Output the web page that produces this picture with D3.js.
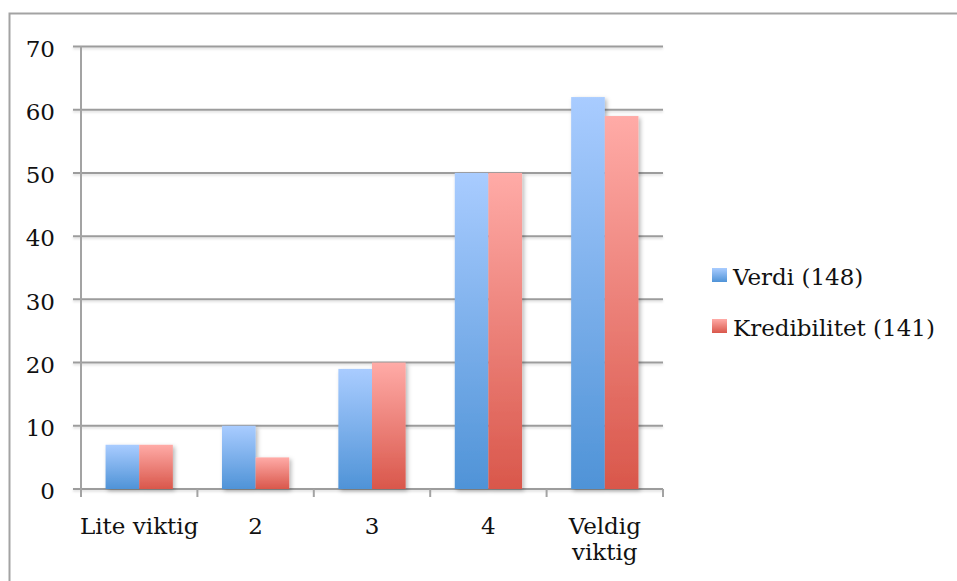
<!DOCTYPE html>
<html>
<head>
<meta charset="utf-8">
<script src="https://cdn.jsdelivr.net/npm/d3@7"></script>
<style>
  html, body { margin: 0; padding: 0; background: #fff; }
  svg { display: block; }
  text { font-family: "DejaVu Serif", serif; fill: #111; }
</style>
</head>
<body>
<svg id="chart" width="957" height="581"></svg>
<script>
// Response categories (importance scale)
const categories = ["Lite viktig", "2", "3", "4", "Veldig viktig"];
// Series
const seriesNames = ["Verdi (148)", "Kredibilitet (141)"];
const verdi = [7, 10, 19, 50, 62];
const kredibilitet = [7, 5, 20, 50, 59];
const yTicks = [0, 10, 20, 30, 40, 50, 60, 70];

const FONT = "DejaVu Serif, serif";
const FS = "23px";

const svg = d3.select("#chart");
const W = 957, H = 581;

const plot = { left: 81, right: 663, top: 46.5, bottom: 489 };

const y = d3.scaleLinear().domain([0, 70]).range([plot.bottom, plot.top]);
const x = d3.scaleBand().domain(categories).range([plot.left, plot.right]).padding(0);
const groupW = x.bandwidth() * 0.578;
const xs = d3.scaleBand().domain(seriesNames).range([-groupW / 2, groupW / 2]).padding(0);

const defs = svg.append("defs");
const palettes = [
  { id: "gBlue", top: "#a9ccff", bottom: "#4f93d7" },
  { id: "gRed", top: "#ffaba7", bottom: "#d9574b" }
];
palettes.forEach(p => {
  const g = defs.append("linearGradient").attr("id", p.id)
    .attr("x1", 0).attr("y1", 0).attr("x2", 0).attr("y2", 1);
  g.append("stop").attr("offset", "0%").attr("stop-color", p.top);
  g.append("stop").attr("offset", "100%").attr("stop-color", p.bottom);
});
const sh = defs.append("filter").attr("id", "shadow")
  .attr("x", "-20%").attr("y", "-10%").attr("width", "150%").attr("height", "130%");
sh.append("feDropShadow").attr("dx", 2).attr("dy", 2).attr("stdDeviation", 2.2)
  .attr("flood-color", "#000").attr("flood-opacity", 0.28);
const gsh = defs.append("filter").attr("id", "gshadow")
  .attr("x", "-5%").attr("y", "-200%").attr("width", "110%").attr("height", "500%");
gsh.append("feDropShadow").attr("dx", 0).attr("dy", 1.5).attr("stdDeviation", 0.8)
  .attr("flood-color", "#000").attr("flood-opacity", 0.15);

// Outer chart frame
svg.append("rect")
  .attr("x", 9.5).attr("y", 13.5).attr("width", W).attr("height", H)
  .attr("fill", "none").attr("stroke", "#a3a3a3").attr("stroke-width", 2);

// Horizontal gridlines with tick stubs on the left
const grid = svg.append("g").attr("filter", "url(#gshadow)");
grid.selectAll("line").data(yTicks).join("line")
  .attr("x1", plot.left - 8).attr("x2", plot.right)
  .attr("y1", d => y(d)).attr("y2", d => y(d))
  .attr("stroke", "#9c9c9c").attr("stroke-width", 2);

// Y axis
const yAxis = d3.axisLeft(y).tickValues(yTicks).tickSize(0).tickPadding(0);
const yg = svg.append("g").attr("transform", `translate(${plot.left},0)`).call(yAxis);
yg.select(".domain").remove();
yg.selectAll("text")
  .attr("x", -26).attr("dy", "0.42em")
  .style("font-size", FS).style("font-family", FONT).attr("fill", "#111");
svg.append("line")
  .attr("x1", plot.left).attr("x2", plot.left)
  .attr("y1", plot.top).attr("y2", plot.bottom + 8)
  .attr("stroke", "#a3a3a3").attr("stroke-width", 2);

// Category boundary ticks
const bounds = d3.range(categories.length + 1).map(i => plot.left + i * x.step());
svg.append("g").selectAll("line").data(bounds.slice(1)).join("line")
  .attr("x1", d => d).attr("x2", d => d)
  .attr("y1", plot.bottom).attr("y2", plot.bottom + 8)
  .attr("stroke", "#a3a3a3").attr("stroke-width", 2);

// Bars
const series = [
  { name: seriesNames[0], values: verdi, fill: "url(#gBlue)" },
  { name: seriesNames[1], values: kredibilitet, fill: "url(#gRed)" }
];
const barsG = svg.append("g").attr("filter", "url(#shadow)");
series.forEach(s => {
  barsG.append("g").selectAll("rect")
    .data(categories.map((c, i) => ({ c, v: s.values[i] })))
    .join("rect")
    .attr("x", d => x(d.c) + x.bandwidth() / 2 + xs(s.name))
    .attr("width", xs.bandwidth())
    .attr("y", d => y(d.v))
    .attr("height", d => y(0) - y(d.v))
    .attr("fill", s.fill);
});

// Category labels (wrapped onto two lines where needed)
const labelBreaks = { "Veldig viktig": ["Veldig", "viktig"] };
const xl = svg.append("g");
categories.forEach(c => {
  const lines = labelBreaks[c] || [c];
  const t = xl.append("text")
    .attr("x", x(c) + x.bandwidth() / 2)
    .attr("y", 534)
    .attr("text-anchor", "middle")
    .style("font-size", FS);
  lines.forEach((ln, i) => {
    t.append("tspan").attr("x", x(c) + x.bandwidth() / 2)
      .attr("dy", i === 0 ? 0 : 26).text(ln);
  });
});

// Legend
const legend = svg.append("g");
series.forEach((s, i) => {
  const ly = 268 + i * 51;
  legend.append("rect")
    .attr("x", 712).attr("y", ly).attr("width", 15).attr("height", 14)
    .attr("fill", i === 0 ? "url(#gBlue)" : "url(#gRed)");
  legend.append("text")
    .attr("x", 733).attr("y", ly + 17)
    .style("font-size", FS)
    .text(s.name);
});
</script>
</body>
</html>
